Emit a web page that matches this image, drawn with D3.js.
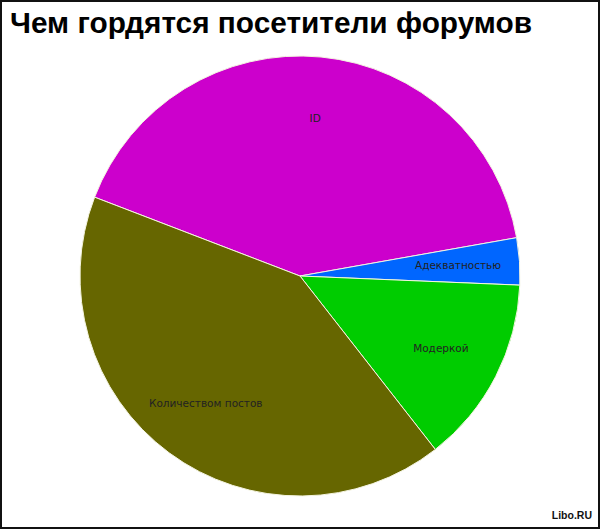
<!DOCTYPE html>
<html><head><meta charset="utf-8">
<script src="https://cdn.jsdelivr.net/npm/d3@7"></script>
<style>html,body{margin:0;padding:0;background:#fff;}svg{display:block;}</style>
</head><body>
<svg id="c" width="600" height="529"></svg>
<script>
const title = "Чем гордятся посетители форумов";
const categories = ["ID", "Адекватностью", "Модеркой", "Количеством постов"];
const values = [12, 1, 4, 12];
const colors = ["#cc00cc", "#0066ff", "#00cc00", "#666600"];
const credit = "Libo.RU";

const W = 600, H = 529, cx = 300, cy = 276, R = 220;
const svg = d3.select("#c");
svg.append("rect").attr("x", 1).attr("y", 1).attr("width", W - 2).attr("height", H - 2)
  .attr("fill", "#fff").attr("stroke", "#111").attr("stroke-width", 2);

svg.append("text").attr("x", 10).attr("y", 33)
  .attr("font-family", "Liberation Sans, Arial, sans-serif").attr("font-weight", "bold")
  .attr("font-size", 29).attr("fill", "#000")
  .attr("textLength", 522).attr("lengthAdjust", "spacingAndGlyphs").text(title);

const data = categories.map((c, i) => ({ name: c, value: values[i], color: colors[i] }));
const start = -69 * Math.PI / 180;
const pie = d3.pie().value(d => d.value).sort(null).startAngle(start).endAngle(start + 2 * Math.PI);
const arcs = pie(data);
const arc = d3.arc().innerRadius(0).outerRadius(R);
const labelArc = d3.arc().innerRadius(R * 0.72).outerRadius(R * 0.72);

const g = svg.append("g").attr("transform", `translate(${cx},${cy})`);
g.selectAll("path").data(arcs).enter().append("path")
  .attr("d", arc).attr("fill", d => d.data.color)
  .attr("stroke", "#f4f4e0").attr("stroke-width", 1);

g.selectAll("text.lbl").data(arcs).enter().append("text").attr("class", "lbl")
  .attr("transform", d => `translate(${labelArc.centroid(d)})`)
  .attr("text-anchor", "middle").attr("dy", "0.35em")
  .attr("font-family", "DejaVu Sans, Verdana, sans-serif").attr("font-size", 10.5)
  .attr("fill", "#222").text(d => d.data.name);

svg.append("text").attr("x", 592).attr("y", 519).attr("text-anchor", "end")
  .attr("font-family", "Liberation Sans, Arial, sans-serif").attr("font-weight", "bold")
  .attr("font-size", 10.5).attr("fill", "#111").text(credit);
</script>
</body></html>
